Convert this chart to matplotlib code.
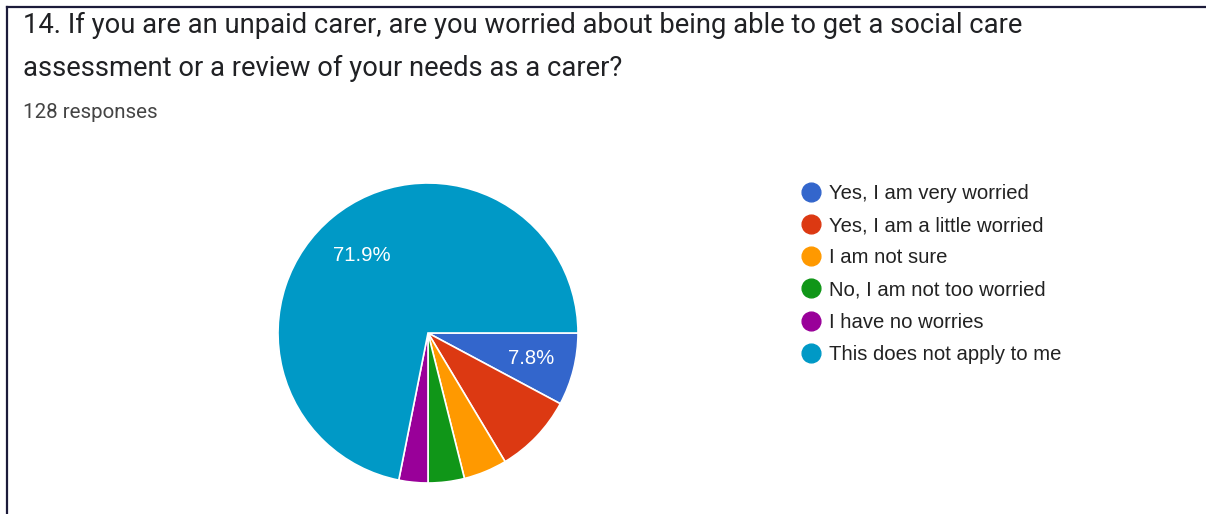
import matplotlib
matplotlib.use("Agg")
import matplotlib.pyplot as plt
from matplotlib.lines import Line2D

# ---- data ----
categories = [
    "Yes, I am very worried",
    "Yes, I am a little worried",
    "I am not sure",
    "No, I am not too worried",
    "I have no worries",
    "This does not apply to me",
]
counts = [10, 11, 6, 5, 4, 92]
colors = ["#3366CC", "#DC3912", "#FF9900", "#109618", "#990099", "#0099C6"]
show_pct = [True, False, False, False, False, True]
title_lines = [
    "14. If you are an unpaid carer, are you worried about being able to get a social care",
    "assessment or a review of your needs as a carer?",
]
subtitle = "128 responses"

W, H = 1206, 514
fig = plt.figure(figsize=(W / 100, H / 100), dpi=100)
fig.patch.set_facecolor("white")

# border lines (top and left)
fig.add_artist(Line2D([6.5 / W, 1.0], [1 - 6.5 / H, 1 - 6.5 / H], color="#1c1b3a", lw=1.6))
fig.add_artist(Line2D([6.5 / W, 6.5 / W], [0, 1 - 6.5 / H], color="#1c1b3a", lw=1.6))

# titles
fig.text(23 / W, 1 - 25 / H, title_lines[0], fontsize=19.7, family="Roboto",
         color="#202124", va="center", ha="left")
fig.text(23 / W, 1 - 68 / H, title_lines[1], fontsize=19.7, family="Roboto",
         color="#202124", va="center", ha="left")
fig.text(23 / W, 1 - 112 / H, subtitle, fontsize=14.8, family="Roboto",
         color="#444444", va="center", ha="left")

# pie
cx, cy, r = 428, 333, 150
ax = fig.add_axes([(cx - r) / W, (H - cy - r) / H, 2 * r / W, 2 * r / H])
def fmt(p, _it=iter(show_pct)):
    return f"{p:.1f}%" if next(_it) else ""
wedges, texts, autotexts = ax.pie(
    counts, colors=colors, startangle=0, counterclock=False,
    autopct=fmt, pctdistance=0.71, radius=1.0,
    wedgeprops=dict(edgecolor="white", linewidth=1.2),
    textprops=dict(color="white", fontsize=14.6, family="Liberation Sans"),
)
autotexts[-1].set_position((autotexts[-1].get_position()[0] + 0.01,
                            autotexts[-1].get_position()[1] - 0.03))
ax.set_xlim(-1, 1)
ax.set_ylim(-1, 1)
ax.set_aspect("equal")
ax.axis("off")

# legend
handles = [Line2D([0], [0], marker="o", linestyle="", markersize=13.5,
                  markerfacecolor=c, markeredgecolor=c) for c in colors]
leg = fig.legend(handles, categories, loc="upper left",
                 bbox_to_anchor=(800 / W, 1 - 184 / H), frameon=False,
                 prop=dict(family="Liberation Sans", size=14.6),
                 handletextpad=0.35, labelspacing=0.65, handlelength=1.1,
                 borderaxespad=0, borderpad=0)
for t in leg.get_texts():
    t.set_color("#222222")

fig.savefig("out.png", dpi=100, facecolor="white")
